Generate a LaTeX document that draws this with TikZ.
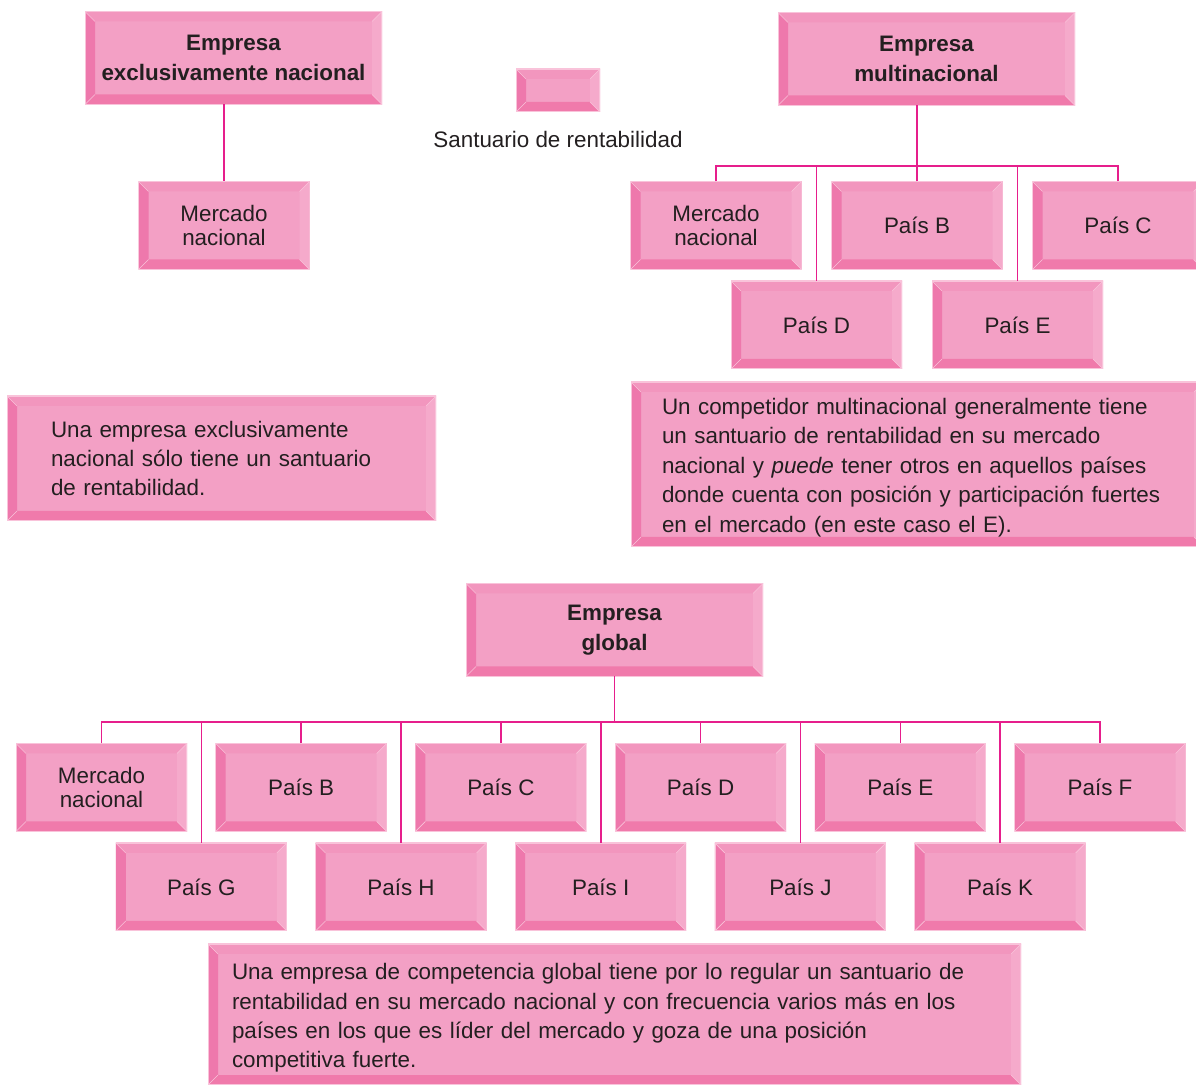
\documentclass[tikz,border=0pt]{standalone}
\usepackage{fontspec}
\setmainfont{Liberation Sans}
\definecolor{face}{RGB}{243,160,197}
\definecolor{bevT}{RGB}{242,150,190}
\definecolor{bevL}{RGB}{238,120,172}
\definecolor{bevB}{RGB}{240,122,171}
\definecolor{bevR}{RGB}{245,170,203}
\definecolor{edgec}{RGB}{249,195,218}
\definecolor{connc}{RGB}{230,30,140}
\definecolor{ink}{RGB}{35,31,32}
\def\pp{path picture bounding box}
\tikzset{
  bev/.style={fill=face, inner sep=0pt, outer sep=0pt, text=ink, align=center,
    font=\fontsize{11.2}{12}\selectfont,
    path picture={
      \fill[bevT] (\pp.north west) -- (\pp.north east) -- ([xshift=-5pt,yshift=-5pt]\pp.north east) -- ([xshift=5pt,yshift=-5pt]\pp.north west) -- cycle;
      \fill[bevB] (\pp.south west) -- (\pp.south east) -- ([xshift=-5pt,yshift=5pt]\pp.south east) -- ([xshift=5pt,yshift=5pt]\pp.south west) -- cycle;
      \fill[bevL] (\pp.north west) -- (\pp.south west) -- ([xshift=5pt,yshift=5pt]\pp.south west) -- ([xshift=5pt,yshift=-5pt]\pp.north west) -- cycle;
      \fill[bevR] (\pp.north east) -- (\pp.south east) -- ([xshift=-5pt,yshift=5pt]\pp.south east) -- ([xshift=-5pt,yshift=-5pt]\pp.north east) -- cycle;
      \draw[edgec, line width=0.3pt] (\pp.north west) -- ([xshift=5pt,yshift=-5pt]\pp.north west)
        (\pp.north east) -- ([xshift=-5pt,yshift=-5pt]\pp.north east)
        (\pp.south west) -- ([xshift=5pt,yshift=5pt]\pp.south west)
        (\pp.south east) -- ([xshift=-5pt,yshift=5pt]\pp.south east);
      \draw[edgec, line width=0.6pt] (\pp.south west) rectangle (\pp.north east);
    }},
  titlebox/.style={bev, minimum width=148.5pt, minimum height=46.5pt,
    font=\fontsize{11.2}{15}\selectfont\bfseries},
  smallbox/.style={bev, minimum width=85.5pt, minimum height=44pt},
  textbox/.style={bev, align=left, font=\fontsize{11.2}{14.7}\selectfont},
  link/.style={draw=connc, line width=0.8pt},
  plain/.style={text=ink, inner sep=0pt, font=\fontsize{11.2}{12}\selectfont},
}
\begin{document}
\begin{tikzpicture}[x=0.5pt,y=-0.5pt]
\useasboundingbox (0,0) rectangle (1196,1085);

% ---- Empresa exclusivamente nacional
\node[titlebox] (t1) at (233.5,58) {Empresa\\exclusivamente nacional};
\node[smallbox] (m1) at (224,225.5) {Mercado\\nacional};
\draw[link] (m1.north |- t1.south) -- (m1.north);

% ---- legend
\node[bev, minimum width=42pt, minimum height=21.5pt] (leg) at (558,90.5) {};
\node[plain] (legtxt) at (558,139) {Santuario de rentabilidad};

% ---- Empresa multinacional
\node[titlebox] (t2) at (926.5,59) {Empresa\\multinacional};
\node[smallbox] (mn2) at (716,225.5) {Mercado\\nacional};
\node[smallbox] (pb2) at (917,225.5) {País B};
\node[smallbox] (pc2) at (1118,225.5) {País C};
\node[smallbox] (pd2) at (816.5,325) {País D};
\node[smallbox] (pe2) at (1017.5,325) {País E};
\coordinate (bus1) at (917,166);
\draw[link] (t2.south -| bus1) -- (bus1);
\foreach \n in {mn2,pb2,pc2,pd2,pe2} \draw[link] (\n.north) |- (bus1);

% ---- text boxes
\node[textbox, text width=170.5pt, inner xsep=22pt, minimum height=62.5pt] (txt1) at (221.5,458.5)
  {Una empresa exclusivamente\\nacional sólo tiene un santuario\\de rentabilidad.};
\node[textbox, text width=255.5pt, inner xsep=15.5pt, minimum height=82.5pt] (txt2) at (917.5,464.5)
  {\rule{0pt}{11.2pt}Un competidor multinacional generalmente tiene\\un santuario de rentabilidad en su mercado\\nacional y \textit{puede} tener otros en aquellos países\\donde cuenta con posición y participación fuertes\\en el mercado (en este caso el E).};

% ---- Empresa global
\node[titlebox] (glob) at (614.5,630) {Empresa\\global};
\node[smallbox] (g1) at (101.5,787.5) {Mercado\\nacional};
\node[smallbox] (g2) at (301.2,787.5) {País B};
\node[smallbox] (g3) at (500.9,787.5) {País C};
\node[smallbox] (g4) at (700.6,787.5) {País D};
\node[smallbox] (g5) at (900.3,787.5) {País E};
\node[smallbox] (g6) at (1100,787.5) {País F};
\node[smallbox] (g7) at (201.3,887) {País G};
\node[smallbox] (g8) at (401,887) {País H};
\node[smallbox] (g9) at (600.7,887) {País I};
\node[smallbox] (g10) at (800.4,887) {País J};
\node[smallbox] (g11) at (1000.1,887) {País K};
\coordinate (bus3) at (614.5,722);
\draw[link] (glob.south) -- (bus3);
\foreach \n in {g1,g2,g3,g4,g5,g6,g7,g8,g9,g10,g11} \draw[link] (\n.north) |- (bus3);

\node[textbox, text width=382.5pt, inner xsep=12pt, minimum height=70.5pt] (txt3) at (614.5,1014.5)
  {\rule{0pt}{11.7pt}Una empresa de competencia global tiene por lo regular un santuario de\\rentabilidad en su mercado nacional y con frecuencia varios más en los\\países en los que es líder del mercado y goza de una posición\\competitiva fuerte.};
\end{tikzpicture}
\end{document}
